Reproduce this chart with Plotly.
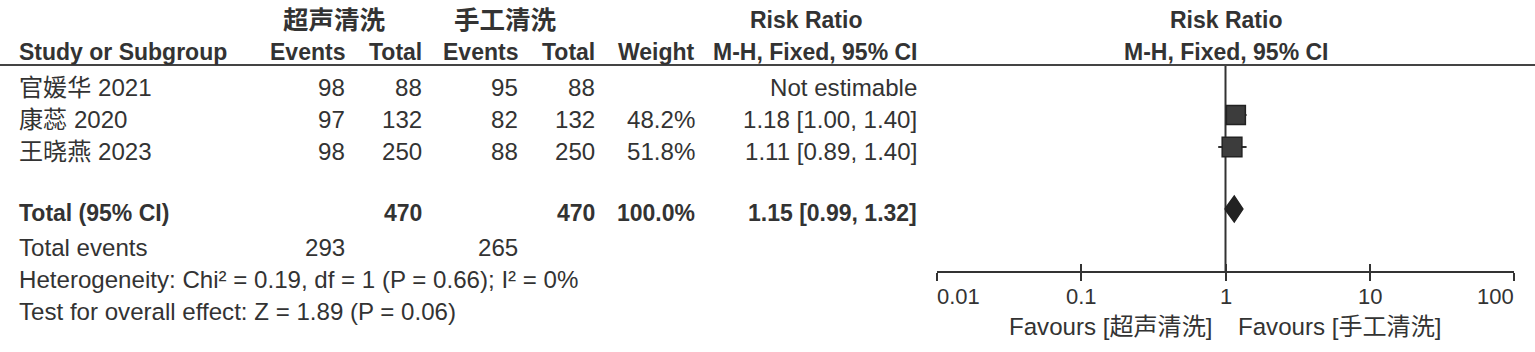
import plotly.graph_objects as go
import math

# ---------------- data ----------------
studies = ["官媛华 2021", "康蕊 2020", "王晓燕 2023"]
exp_events = [98, 97, 98]
exp_total = [88, 132, 250]
ctrl_events = [95, 82, 88]
ctrl_total = [88, 132, 250]
weights = [None, 48.2, 51.8]
rr = [None, 1.18, 1.11]
rr_lo = [None, 1.00, 0.89]
rr_hi = [None, 1.40, 1.40]

total_exp = 470
total_ctrl = 470
total_weight = 100.0
total_rr = 1.15
total_lo = 0.99
total_hi = 1.32
total_events_exp = 293
total_events_ctrl = 265
heterogeneity = "Heterogeneity: Chi² = 0.19, df = 1 (P = 0.66); I² = 0%"
overall = "Test for overall effect: Z = 1.89 (P = 0.06)"

group_exp = "超声清洗"
group_ctrl = "手工清洗"
tick_vals = [0.01, 0.1, 1, 10, 100]
tick_text = ["0.01", "0.1", "1", "10", "100"]

# ---------------- layout constants ----------------
W, H = 1535, 352
FONT = "Liberation Sans, Arial, Noto Sans CJK SC, sans-serif"
TXT = "#333333"
FS = 24.1
FSB = 23.0
PAD = 3  # compensate annotation padding

col_study = 20
col_ev1, col_tot1, col_ev2, col_tot2, col_wt, col_rr = 344, 421, 517, 594, 694, 916
hdr1_y, hdr2_y = 20, 52
row_y = [87 + 32 * i for i in range(len(studies))]
total_y = 213
events_y = 247
het_y = 279
test_y = 311
line_y = 65
axis_y = 272
mark_dy = -4  # forest marks sit slightly above the text row
fx0, fx1 = 937, 1514  # forest axis pixel extent

fig = go.Figure()
ann = []


def txt(x, y, s, anchor="left", bold=False, size=None):
    if size is None:
        size = FSB if bold else FS
    shift = -PAD if anchor == "left" else (PAD if anchor == "right" else 0)
    ann.append(dict(x=x, y=y, xref="x", yref="y", text=s, showarrow=False,
                    xanchor=anchor, yanchor="middle", xshift=shift,
                    font=dict(family=FONT, size=size, color=TXT,
                              weight="bold" if bold else "normal")))


# headers
txt(334, hdr1_y, group_exp, "center", True, 25.5)
txt(505, hdr1_y, group_ctrl, "center", True, 25.5)
txt(806, hdr1_y, "Risk Ratio", "center", True)
txt(1226, hdr1_y, "Risk Ratio", "center", True)
txt(col_study, hdr2_y, "Study or Subgroup", "left", True)
txt(col_ev1, hdr2_y, "Events", "right", True)
txt(col_tot1, hdr2_y, "Total", "right", True)
txt(col_ev2, hdr2_y, "Events", "right", True)
txt(col_tot2, hdr2_y, "Total", "right", True)
txt(col_wt, hdr2_y, "Weight", "right", True)
txt(col_rr, hdr2_y, "M-H, Fixed, 95% CI", "right", True)
txt(1226, hdr2_y, "M-H, Fixed, 95% CI", "center", True)

# study rows
for i, name in enumerate(studies):
    y = row_y[i]
    txt(col_study, y, name)
    txt(col_ev1, y, str(exp_events[i]), "right")
    txt(col_tot1, y, str(exp_total[i]), "right")
    txt(col_ev2, y, str(ctrl_events[i]), "right")
    txt(col_tot2, y, str(ctrl_total[i]), "right")
    if weights[i] is not None:
        txt(col_wt, y, f"{weights[i]:.1f}%", "right")
        txt(col_rr, y, f"{rr[i]:.2f} [{rr_lo[i]:.2f}, {rr_hi[i]:.2f}]", "right")
    else:
        txt(col_rr, y, "Not estimable", "right")

# total rows
txt(col_study, total_y, "Total (95% CI)", "left", True)
txt(col_tot1, total_y, str(total_exp), "right", True)
txt(col_tot2, total_y, str(total_ctrl), "right", True)
txt(col_wt, total_y, f"{total_weight:.1f}%", "right", True)
txt(col_rr, total_y, f"{total_rr:.2f} [{total_lo:.2f}, {total_hi:.2f}]", "right", True)
txt(col_study, events_y, "Total events")
txt(col_ev1, events_y, str(total_events_exp), "right")
txt(col_ev2, events_y, str(total_events_ctrl), "right")
txt(col_study, het_y, heterogeneity)
txt(col_study, test_y, overall)

# tick labels on the forest axis (x in log10 units for annotations)
for v, t in zip(tick_vals, tick_text):
    if v == tick_vals[0]:
        anchor, sh = "left", -PAD + 1
    elif v == tick_vals[-1]:
        anchor, sh = "right", PAD - 1
    else:
        anchor, sh = "center", 0
    ann.append(dict(x=math.log10(v), y=296, xref="x2", yref="y", text=t, showarrow=False,
                    xanchor=anchor, yanchor="middle", xshift=sh,
                    font=dict(family=FONT, size=22, color=TXT)))
ann.append(dict(x=0, y=326, xref="x2", yref="y", text=f"Favours [{group_exp}]", showarrow=False,
                xanchor="right", yanchor="middle", xshift=-11,
                font=dict(family=FONT, size=FS, color=TXT)))
ann.append(dict(x=0, y=326, xref="x2", yref="y", text=f"Favours [{group_ctrl}]", showarrow=False,
                xanchor="left", yanchor="middle", xshift=10,
                font=dict(family=FONT, size=FS, color=TXT)))

# ---------------- forest traces ----------------
# line of no effect
fig.add_trace(go.Scatter(x=[1, 1], y=[line_y, axis_y], mode="lines", xaxis="x2", yaxis="y",
                         line=dict(color="#333333", width=2), hoverinfo="skip", showlegend=False))
# CIs and squares
for i in range(len(studies)):
    if rr[i] is None:
        continue
    y = row_y[i] + mark_dy
    fig.add_trace(go.Scatter(x=[rr_lo[i], rr_hi[i]], y=[y, y], mode="lines", xaxis="x2", yaxis="y",
                             line=dict(color="#333333", width=2), hoverinfo="skip", showlegend=False))
    size = 19 * math.sqrt(weights[i] / 48.2)
    fig.add_trace(go.Scatter(x=[rr[i]], y=[y], mode="markers", xaxis="x2", yaxis="y",
                             marker=dict(symbol="square", size=size, color="#3c3c3c",
                                         line=dict(color="#222222", width=1.5)),
                             hoverinfo="skip", showlegend=False))
# diamond
dh = 13
ty = total_y + mark_dy
fig.add_trace(go.Scatter(x=[total_lo, total_rr, total_hi, total_rr, total_lo],
                         y=[ty, ty - dh, ty, ty + dh, ty],
                         mode="lines", fill="toself", fillcolor="#222222",
                         line=dict(color="#222222", width=1.5), xaxis="x2", yaxis="y",
                         hoverinfo="skip", showlegend=False))

# header rule
shapes = [dict(type="line", xref="paper", yref="y", x0=0, x1=1, y0=line_y, y1=line_y,
               line=dict(color="#444444", width=2))]

axpos = (H - axis_y) / H
fig.update_layout(
    width=W, height=H, margin=dict(l=0, r=0, t=0, b=0),
    paper_bgcolor="white", plot_bgcolor="rgba(0,0,0,0)",
    xaxis=dict(range=[0, W], visible=False, domain=[0, 1], fixedrange=True),
    yaxis=dict(range=[H, 0], visible=False, domain=[0, 1], fixedrange=True),
    xaxis2=dict(type="log", range=[-2, 2], domain=[fx0 / W, fx1 / W], anchor="free",
                position=axpos, showline=True, linecolor="#333333", linewidth=2,
                ticks="outside", ticklen=8, tickwidth=2, tickcolor="#333333",
                tickvals=tick_vals, showticklabels=False, showgrid=False, zeroline=False,
                fixedrange=True),
    xaxis3=dict(type="log", range=[-2, 2], domain=[fx0 / W, fx1 / W], anchor="free",
                position=axpos, overlaying="x2", showline=False,
                ticks="inside", ticklen=8, tickwidth=2, tickcolor="#333333",
                tickvals=tick_vals, showticklabels=False, showgrid=False, zeroline=False,
                fixedrange=True),
    annotations=ann, shapes=shapes, showlegend=False,
)
# a trivial invisible trace so xaxis3 is drawn
fig.add_trace(go.Scatter(x=[1], y=[axis_y], xaxis="x3", yaxis="y", mode="markers",
                         marker=dict(size=1, opacity=0), hoverinfo="skip", showlegend=False))

fig.write_html("out.html")
